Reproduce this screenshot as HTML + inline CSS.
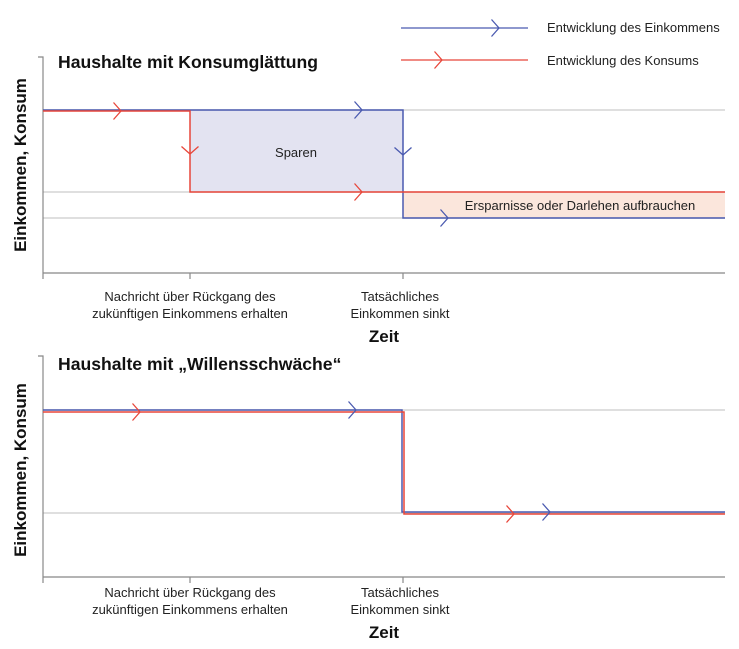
<!DOCTYPE html>
<html><head><meta charset="utf-8"><style>
html,body{margin:0;padding:0;background:#fff;}
svg{display:block;font-family:"Liberation Sans",sans-serif;}
</style></head><body>
<svg width="739" height="649" viewBox="0 0 739 649" xmlns="http://www.w3.org/2000/svg">
<defs>
<path id="ar" d="M-7.5,-8.5 L0,0 L-7.5,8.5" fill="none" stroke-width="1.3"/>
</defs>
<!-- legend -->
<line x1="401" y1="28" x2="528" y2="28" stroke="#4a5ab0" stroke-width="1.3"/>
<use href="#ar" x="499" y="28" stroke="#4a5ab0"/>
<line x1="401" y1="60" x2="528" y2="60" stroke="#e8463a" stroke-width="1.3"/>
<use href="#ar" x="442" y="60" stroke="#e8463a"/>
<text x="547" y="32" font-size="13" fill="#222">Entwicklung des Einkommens</text>
<text x="547" y="65" font-size="13" fill="#222">Entwicklung des Konsums</text>

<!-- top panel -->
<text x="58" y="68" font-size="17.6" font-weight="bold" fill="#111">Haushalte mit Konsumglättung</text>
<text transform="translate(26,165) rotate(-90)" text-anchor="middle" font-size="17" font-weight="bold" fill="#111">Einkommen, Konsum</text>
<rect x="190" y="110" width="213" height="82" fill="#e3e3f1"/>
<rect x="403" y="192" width="322" height="26" fill="#fbe6dc"/>
<g stroke="#ccc" stroke-width="1.2">
<line x1="43" y1="110" x2="725" y2="110"/>
<line x1="43" y1="192" x2="725" y2="192"/>
<line x1="43" y1="218" x2="725" y2="218"/>
</g>
<g stroke="#888" stroke-width="1.2" fill="none">
<polyline points="38,57 43,57 43,273"/>
<line x1="43" y1="273" x2="725" y2="273"/>
<line x1="43" y1="273" x2="43" y2="279"/>
<line x1="190" y1="273" x2="190" y2="279"/>
<line x1="403" y1="273" x2="403" y2="279"/>
</g>
<polyline points="43,110 403,110 403,218 725,218" fill="none" stroke="#4a5ab0" stroke-width="1.5"/>
<polyline points="43,111 190,111 190,192 725,192" fill="none" stroke="#e8463a" stroke-width="1.5"/>
<use href="#ar" x="121" y="111" stroke="#e8463a"/>
<use href="#ar" x="362" y="110" stroke="#4a5ab0"/>
<use href="#ar" x="362" y="192" stroke="#e8463a"/>
<use href="#ar" x="448" y="218" stroke="#4a5ab0"/>
<use href="#ar" transform="translate(190,154) rotate(90)" stroke="#e8463a"/>
<use href="#ar" transform="translate(403,155) rotate(90)" stroke="#4a5ab0"/>
<text x="296" y="157" font-size="13" text-anchor="middle" fill="#222">Sparen</text>
<text x="580" y="210" font-size="13" text-anchor="middle" fill="#222">Ersparnisse oder Darlehen aufbrauchen</text>
<text x="190" y="301" font-size="13" text-anchor="middle" fill="#222">Nachricht über Rückgang des</text>
<text x="190" y="318" font-size="13" text-anchor="middle" fill="#222">zukünftigen Einkommens erhalten</text>
<text x="400" y="301" font-size="13" text-anchor="middle" fill="#222">Tatsächliches</text>
<text x="400" y="318" font-size="13" text-anchor="middle" fill="#222">Einkommen sinkt</text>
<text x="384" y="342" font-size="17" font-weight="bold" text-anchor="middle" fill="#111">Zeit</text>

<!-- bottom panel -->
<text x="58" y="370" font-size="17.6" font-weight="bold" fill="#111">Haushalte mit „Willensschwäche“</text>
<text transform="translate(26,470) rotate(-90)" text-anchor="middle" font-size="17" font-weight="bold" fill="#111">Einkommen, Konsum</text>
<g stroke="#ccc" stroke-width="1.2">
<line x1="43" y1="410" x2="725" y2="410"/>
<line x1="43" y1="513" x2="725" y2="513"/>
</g>
<g stroke="#888" stroke-width="1.2" fill="none">
<polyline points="38,356 43,356 43,577"/>
<line x1="43" y1="577" x2="725" y2="577"/>
<line x1="43" y1="577" x2="43" y2="583"/>
<line x1="190" y1="577" x2="190" y2="583"/>
<line x1="403" y1="577" x2="403" y2="583"/>
</g>
<polyline points="43,410 402,410 402,512 725,512" fill="none" stroke="#4a5ab0" stroke-width="1.5"/>
<polyline points="43,412 404,412 404,514 725,514" fill="none" stroke="#e8463a" stroke-width="1.5"/>
<use href="#ar" x="140" y="412" stroke="#e8463a"/>
<use href="#ar" x="356" y="410" stroke="#4a5ab0"/>
<use href="#ar" x="514" y="514" stroke="#e8463a"/>
<use href="#ar" x="550" y="512" stroke="#4a5ab0"/>
<text x="190" y="597" font-size="13" text-anchor="middle" fill="#222">Nachricht über Rückgang des</text>
<text x="190" y="614" font-size="13" text-anchor="middle" fill="#222">zukünftigen Einkommens erhalten</text>
<text x="400" y="597" font-size="13" text-anchor="middle" fill="#222">Tatsächliches</text>
<text x="400" y="614" font-size="13" text-anchor="middle" fill="#222">Einkommen sinkt</text>
<text x="384" y="638" font-size="17" font-weight="bold" text-anchor="middle" fill="#111">Zeit</text>
</svg>
</body></html>
